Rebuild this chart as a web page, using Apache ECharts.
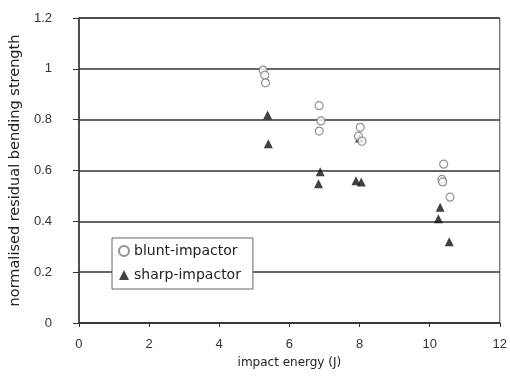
<!DOCTYPE html>
<html><head><meta charset="utf-8">
<script src="https://cdn.jsdelivr.net/npm/echarts@6/dist/echarts.min.js"></script>
<style>html,body{margin:0;padding:0;background:#fff}#c{width:510px;height:380px}</style>
</head><body><div id="c"></div>
<script>
const seriesNames = ['blunt-impactor', 'sharp-impactor'];
const bluntData = [
  [5.25, 0.995], [5.30, 0.975], [5.32, 0.945],
  [6.85, 0.855], [6.90, 0.795], [6.85, 0.755],
  [8.02, 0.770], [7.97, 0.735], [8.07, 0.715],
  [10.40, 0.625], [10.35, 0.565], [10.37, 0.555], [10.58, 0.495]
];
const sharpData = [
  [5.38, 0.818], [5.40, 0.705],
  [6.88, 0.595], [6.83, 0.548],
  [7.90, 0.560], [8.05, 0.555], [8.00, 0.728],
  [10.30, 0.455], [10.25, 0.410], [10.56, 0.320]
];
const xTitle = 'impact energy (J)';
const yTitle = 'normalised residual bending strength';

const chart = echarts.init(document.getElementById('c'));
const font = 'Liberation Sans, Arial, sans-serif';
const wide = 'DejaVu Sans, sans-serif';
chart.setOption({
  animation: false,
  backgroundColor: '#fff',
  grid: { left: 77, right: 8, top: 18, bottom: 57, show: true, borderColor: '#444', borderWidth: 1 },
  xAxis: {
    type: 'value', min: 0, max: 12, interval: 2,
    name: xTitle, nameLocation: 'middle', nameGap: 34,
    nameTextStyle: { fontFamily: wide, fontSize: 12, color: '#222' },
    axisLine: { show: true, onZero: false, lineStyle: { color: '#333', width: 1.5 } },
    axisTick: { show: true, length: 4, lineStyle: { color: '#333' } },
    axisLabel: { fontFamily: font, fontSize: 13, color: '#333', margin: 15 },
    splitLine: { show: false }
  },
  yAxis: {
    type: 'value', min: 0, max: 1.2, interval: 0.2,
    name: yTitle, nameLocation: 'middle', nameGap: 53,
    nameTextStyle: { fontFamily: wide, fontSize: 14.5, color: '#222' },
    axisLine: { show: true, lineStyle: { color: '#333', width: 1.5 } },
    axisTick: { show: true, length: 6, lineStyle: { color: '#333' } },
    axisLabel: { fontFamily: font, fontSize: 13, color: '#333', margin: 27 },
    splitLine: { show: true, lineStyle: { color: '#333', width: 1.5 } }
  },
  legend: {
    orient: 'vertical', left: 112, top: 238,
    backgroundColor: '#fff', borderColor: '#666', borderWidth: 1,
    padding: [6, 12, 7, 6], itemGap: 10, itemWidth: 10, itemHeight: 10,
    textStyle: { fontFamily: wide, fontSize: 14, color: '#222' },
    data: seriesNames
  },
  series: [
    {
      name: seriesNames[0], type: 'scatter', symbol: 'circle', symbolSize: 8,
      itemStyle: { color: '#fff', borderColor: '#777', borderWidth: 1.2 },
      data: bluntData, z: 5
    },
    {
      name: seriesNames[1], type: 'scatter', symbol: 'triangle', symbolSize: 9,
      itemStyle: { color: '#111' },
      data: sharpData, z: 4
    }
  ]
});
</script>
</body></html>
